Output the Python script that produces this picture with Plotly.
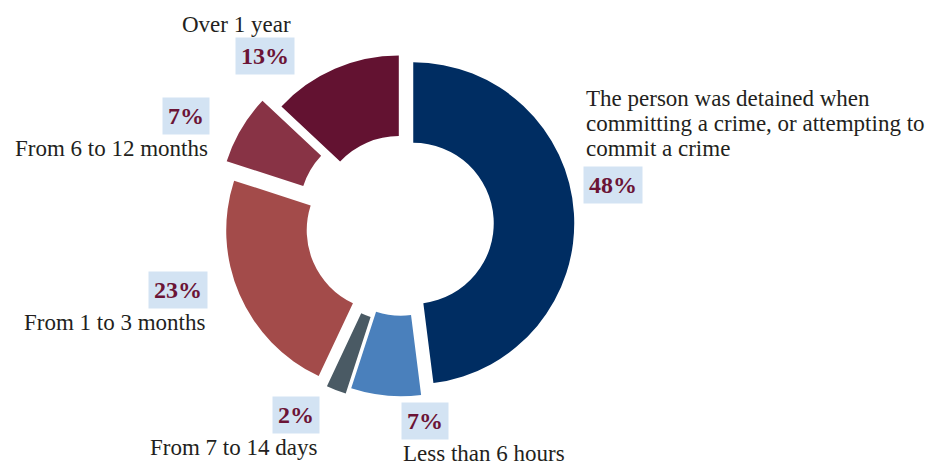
import plotly.graph_objects as go

categories = [
    "The person was detained when<br>committing a crime, or attempting to<br>commit a crime",
    "Less than 6 hours",
    "From 7 to 14 days",
    "From 1 to 3 months",
    "From 6 to 12 months",
    "Over 1 year",
]
values = [48, 7, 2, 23, 7, 13]
colors = ["#002D62", "#4A80BC", "#4A5A64", "#A34B4A", "#883345", "#631231"]
pulls = [0.07, 0.07, 0.11, 0.10, 0.16, 0.05]

W, H = 941, 466
R = 161            # outer radius in px
CX, CY = 402, 224  # pie centre in px (from top-left)

# plotly shrinks the radius so the most-pulled slice still fits the domain
span = R * (1 + max(pulls))
dom_x = [(CX - span) / W, (CX + span) / W]
dom_y = [1 - (CY + span) / H, 1 - (CY - span) / H]

fig = go.Figure(go.Pie(
    labels=[c.replace("<br>", " ") for c in categories],
    values=values,
    sort=False,
    direction="clockwise",
    rotation=0,
    hole=0.5,
    pull=pulls,
    marker=dict(colors=colors, line=dict(color="white", width=0)),
    textinfo="none",
    hoverinfo="label+percent",
    domain=dict(x=dom_x, y=dom_y),
    showlegend=False,
))

SERIF = "Liberation Serif"
TXT = "#231F20"
PCT = "#6B1436"
BOX = "#D3E3F3"
LABEL_SIZE = 23
LINE_GAP = 25


def px(x, y):
    return x / W, 1 - y / H


# percent box (x, centre y, anchor) and label (x, first-line centre y, anchor), in px
layout_spec = [
    ((583, 185, "left"), (584, 98.5, "left")),
    ((401, 421, "left"), (401, 453, "left")),
    ((320, 415, "right"), (319, 447.5, "right")),
    ((208, 290, "right"), (208, 322.5, "right")),
    ((210, 116, "right"), (210, 148.5, "right")),
    ((295, 56, "right"), (293, 24.5, "right")),
]

annotations = []
for cat, val, (pbox, lab) in zip(categories, values, layout_spec):
    bx, by, ba = pbox
    x, y = px(bx, by)
    annotations.append(dict(
        x=x, y=y, xref="paper", yref="paper", xanchor=ba, yanchor="middle",
        text=f"<b>{val}%</b>", showarrow=False, bgcolor=BOX, borderpad=5,
        font=dict(family=SERIF, size=24, color=PCT),
    ))
    lx, ly, la = lab
    for i, line in enumerate(cat.split("<br>")):
        x, y = px(lx, ly + i * LINE_GAP)
        annotations.append(dict(
            x=x, y=y, xref="paper", yref="paper", xanchor=la, yanchor="middle",
            text=line, showarrow=False, align=la,
            font=dict(family=SERIF, size=LABEL_SIZE, color=TXT),
        ))

fig.update_layout(
    width=W, height=H,
    margin=dict(l=0, r=0, t=0, b=0),
    paper_bgcolor="white", plot_bgcolor="white",
    annotations=annotations,
)

fig.write_html("out.html")
